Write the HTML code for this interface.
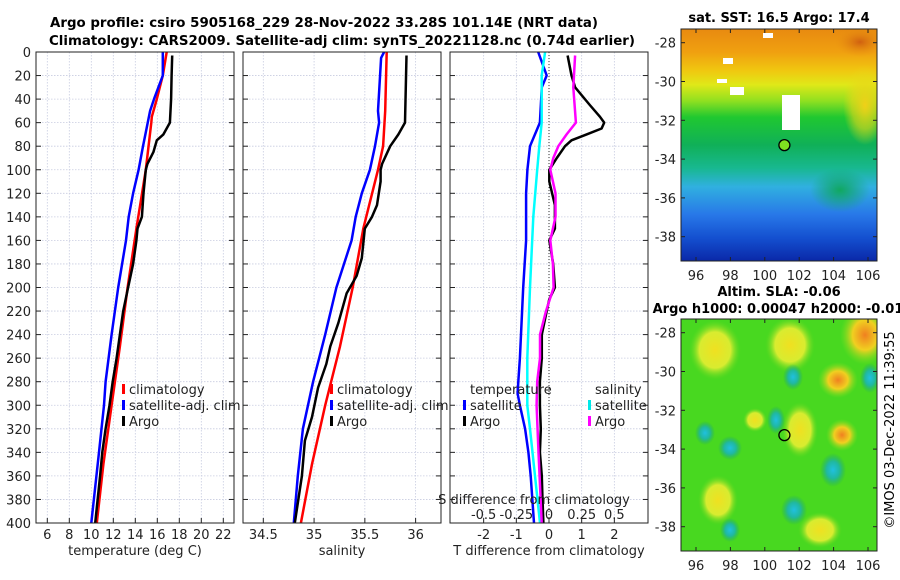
<!DOCTYPE html>
<html><head><meta charset="utf-8"><style>
body{margin:0;background:#fff;}
svg{display:block;font-family:"DejaVu Sans","Liberation Sans",sans-serif;}
</style></head><body>
<svg id="fig" width="900" height="580" viewBox="0 0 900 580" xmlns="http://www.w3.org/2000/svg">
<defs>
<clipPath id="clipSst"><rect x="681" y="29" width="196" height="232"/></clipPath>
<clipPath id="clipSla"><rect x="681" y="319" width="196" height="232"/></clipPath>
<linearGradient id="sstg" x1="0" y1="0" x2="0" y2="1">
<stop offset="0" stop-color="#e88a10"/><stop offset="0.1" stop-color="#f0a010"/>
<stop offset="0.18" stop-color="#f0c810"/><stop offset="0.24" stop-color="#e0e818"/>
<stop offset="0.31" stop-color="#90e020"/><stop offset="0.38" stop-color="#20c830"/>
<stop offset="0.5" stop-color="#10b058"/><stop offset="0.6" stop-color="#18b890"/>
<stop offset="0.68" stop-color="#30b0e0"/><stop offset="0.8" stop-color="#2878e8"/>
<stop offset="0.9" stop-color="#1450d0"/><stop offset="1" stop-color="#0a28a8"/>
</linearGradient>
<radialGradient id="yb"><stop offset="0" stop-color="#f0e020"/><stop offset="0.6" stop-color="#d8ec30"/><stop offset="1" stop-color="#60d820" stop-opacity="0"/></radialGradient>
<radialGradient id="ob"><stop offset="0" stop-color="#f08020"/><stop offset="0.5" stop-color="#f0d020"/><stop offset="1" stop-color="#80e020" stop-opacity="0"/></radialGradient>
<radialGradient id="ob2"><stop offset="0" stop-color="#d06010"/><stop offset="1" stop-color="#e89010" stop-opacity="0"/></radialGradient>
<radialGradient id="cb"><stop offset="0" stop-color="#20c0e0"/><stop offset="0.5" stop-color="#20b8a0"/><stop offset="1" stop-color="#20a860" stop-opacity="0"/></radialGradient>
<radialGradient id="db"><stop offset="0" stop-color="#10a860"/><stop offset="1" stop-color="#10a860" stop-opacity="0"/></radialGradient>
<radialGradient id="sy"><stop offset="0" stop-color="#f0d018"/><stop offset="0.6" stop-color="#e8d818" stop-opacity="0.6"/><stop offset="1" stop-color="#e8d818" stop-opacity="0"/></radialGradient>
</defs>
<text x="324" y="27" font-size="13.5" font-weight="bold" text-anchor="middle" textLength="548" lengthAdjust="spacingAndGlyphs">Argo profile: csiro 5905168_229 28-Nov-2022 33.28S 101.14E (NRT data)</text>
<text x="342" y="45" font-size="13.5" font-weight="bold" text-anchor="middle" textLength="586" lengthAdjust="spacingAndGlyphs">Climatology: CARS2009. Satellite-adj clim: synTS_20221128.nc (0.74d earlier)</text>
<g id="panels"></g>
<text x="779" y="22" font-size="13" font-weight="bold" text-anchor="middle">sat. SST: 16.5 Argo: 17.4</text>
<g clip-path="url(#clipSst)">
<rect x="681" y="29" width="196" height="232" fill="url(#sstg)"/>
<ellipse cx="860" cy="42" rx="25" ry="15" fill="url(#ob2)"/>
<ellipse cx="865" cy="105" rx="22" ry="40" fill="url(#sy)"/>
<ellipse cx="840" cy="190" rx="30" ry="22" fill="url(#db)"/>
<rect x="782" y="95" width="18" height="35" fill="#fff"/>
<rect x="730" y="87" width="14" height="8" fill="#fff"/>
<rect x="723" y="58" width="10" height="6" fill="#fff"/>
<rect x="717" y="79" width="10" height="4" fill="#fff"/>
<rect x="763" y="33" width="10" height="5" fill="#fff"/>
</g>
<text x="779" y="296" font-size="13" font-weight="bold" text-anchor="middle">Altim. SLA: -0.06</text>
<text x="778" y="313" font-size="13" font-weight="bold" text-anchor="middle">Argo h1000: 0.00047 h2000: -0.01</text>
<g clip-path="url(#clipSla)">
<rect x="681" y="319" width="196" height="232" fill="#48d820"/>
<ellipse cx="715" cy="350" rx="26" ry="30" fill="url(#yb)"/>
<ellipse cx="790" cy="345" rx="25" ry="28" fill="url(#yb)"/>
<ellipse cx="865" cy="335" rx="25" ry="30" fill="url(#ob)"/>
<ellipse cx="838" cy="380" rx="20" ry="18" fill="url(#ob)"/>
<ellipse cx="800" cy="430" rx="18" ry="28" fill="url(#yb)"/>
<ellipse cx="842" cy="435" rx="16" ry="16" fill="url(#ob)"/>
<ellipse cx="718" cy="500" rx="20" ry="25" fill="url(#yb)"/>
<ellipse cx="755" cy="420" rx="12" ry="12" fill="url(#yb)"/>
<ellipse cx="820" cy="530" rx="22" ry="18" fill="url(#yb)"/>
<ellipse cx="793" cy="377" rx="10" ry="13" fill="url(#cb)"/>
<ellipse cx="870" cy="378" rx="10" ry="15" fill="url(#cb)"/>
<ellipse cx="776" cy="420" rx="9" ry="14" fill="url(#cb)"/>
<ellipse cx="833" cy="470" rx="13" ry="17" fill="url(#cb)"/>
<ellipse cx="794" cy="510" rx="13" ry="15" fill="url(#cb)"/>
<ellipse cx="730" cy="448" rx="12" ry="12" fill="url(#cb)"/>
<ellipse cx="730" cy="530" rx="10" ry="12" fill="url(#cb)"/>
<ellipse cx="705" cy="433" rx="10" ry="12" fill="url(#cb)"/>
</g>
<g id="maps"></g>
<text transform="translate(894,430) rotate(-90)" font-size="13" text-anchor="middle">©IMOS 03-Dec-2022 11:39:55</text>
</svg>
<script>
const depthTicks=[0,20,40,60,80,100,120,140,160,180,200,220,240,260,280,300,320,340,360,380,400];
const tempTicks=[6,8,10,12,14,16,18,20,22];
const salTicks=[34.5,35,35.5,36];
const tdiffTicks=[-2,-1,0,1,2];
const sdiffTicks=[-0.5,-0.25,0,0.25,0.5];
const sdiffLabels=["-0.5","-0.25","0","0.25","0.5"];
const climTD=[0,20,40,55,60,100,150,200,250,300,350,400];
const climT=[16.85,16.5,15.95,15.5,15.45,14.95,14.1,13.3,12.6,11.85,11.1,10.5];
const satTD=[0,20,40,50,80,100,120,140,160,200,240,280,300,340,400];
const satT=[16.5,16.5,15.7,15.35,14.7,14.3,13.8,13.4,13.15,12.45,11.85,11.3,11.15,10.7,10.0];
const argoD=[3,20,40,60,70,75,85,95,100,120,140,150,160,180,200,220,240,260,280,300,320,340,360,400];
const argoT=[17.35,17.3,17.25,17.15,16.55,15.95,15.65,15.1,14.95,14.75,14.6,14.2,14.1,13.8,13.35,12.9,12.6,12.3,11.95,11.65,11.3,11.0,10.8,10.35];
const climSD=[0,50,80,100,150,200,250,300,350,400];
const climS=[35.715,35.70,35.68,35.63,35.485,35.38,35.255,35.11,34.98,34.87];
const satSD=[0,5,50,60,80,100,120,140,160,200,240,280,320,360,400];
const satS=[35.69,35.66,35.63,35.64,35.6,35.55,35.47,35.41,35.37,35.22,35.11,34.99,34.89,34.84,34.80];
const argoSD=[3,60,70,80,95,100,110,130,140,150,175,190,205,230,250,265,285,310,330,360,400];
const argoS=[35.91,35.895,35.83,35.75,35.67,35.655,35.655,35.62,35.57,35.50,35.47,35.42,35.32,35.24,35.16,35.12,35.04,34.98,34.91,34.88,34.81];
const satTdD=[0,20,30,60,80,100,120,160,200,260,280,290,300,320,340,360,400];
const satTd=[-0.33,-0.07,-0.22,-0.28,-0.58,-0.66,-0.7,-0.7,-0.79,-0.89,-0.94,-0.96,-0.89,-0.73,-0.63,-0.56,-0.46];
const satSdD=[0,20,60,80,100,140,200,260,300,320,360,400];
const satSd=[-0.03,-0.056,-0.056,-0.074,-0.09,-0.12,-0.145,-0.166,-0.166,-0.145,-0.107,-0.069];
const argoTdD=[3,20,30,45,55,60,65,70,75,80,90,100,110,130,150,160,180,200,210,220,240,260,280,300,320,340,360,380,400];
const argoTd=[0.57,0.69,0.80,1.25,1.56,1.69,1.61,1.15,0.69,0.49,0.24,0.01,0.01,0.18,0.18,0.01,0.13,0.18,0.01,-0.07,-0.22,-0.22,-0.28,-0.28,-0.25,-0.28,-0.22,-0.2,-0.17];
const argoSdD=[3,30,60,70,80,90,100,120,140,160,180,200,220,240,260,280,300,340,400];
const argoSd=[0.2,0.186,0.206,0.135,0.071,0.033,0.01,0.05,0.05,0.01,0.03,0.035,-0.023,-0.069,-0.069,-0.09,-0.095,-0.08,-0.056];
const latTicks=[-28,-30,-32,-34,-36,-38];
const lonTicks=[96,98,100,102,104,106];
const argoLon=[101.14], argoLat=[-33.28];

const NS="http://www.w3.org/2000/svg";
const panels=document.getElementById('panels');
function mk(tag,attrs,parent,text){const e=document.createElementNS(NS,tag);for(const k in attrs)e.setAttribute(k,attrs[k]);if(text!==undefined)e.textContent=text;(parent||panels).appendChild(e);return e;}
const Y0=52,Y1=523;
const yD=d=>Y0+d/400*(Y1-Y0);
function lin(d0,d1,p0,p1){return v=>p0+(v-d0)/(d1-d0)*(p1-p0);}

function panel(name,x0,x1,xs,xticks,xlabels,xtitle,showY){
  const g=mk('g',{});
  
  
  const grid=mk('g',{},g);
  
  
  depthTicks.forEach(d=>{mk('line',{x1:x0,x2:x1,y1:yD(d),y2:yD(d),stroke:'#c8cce0','stroke-width':0.8,'stroke-dasharray':'1.5,1.5'},grid);
    mk('line',{x1:x0,x2:x0+5,y1:yD(d),y2:yD(d),stroke:'#222'},grid);mk('line',{x1:x1-5,x2:x1,y1:yD(d),y2:yD(d),stroke:'#222'},grid);});
  xticks.forEach((t,i)=>{const x=xs(t);mk('line',{x1:x,x2:x,y1:Y0,y2:Y1,stroke:'#c8cce0','stroke-width':0.8,'stroke-dasharray':'1.5,1.5'},grid);
    mk('line',{x1:x,x2:x,y1:Y1-5,y2:Y1,stroke:'#222'},grid);
    const tl=mk('text',{x:x,y:539,'font-size':13,'text-anchor':'middle',fill:'#222'},g,xlabels[i]);
    
    });
  if(showY){depthTicks.forEach(d=>{const t=mk('text',{x:31,y:yD(d)+5,'font-size':13,'text-anchor':'end',fill:'#222'},g,String(d));
    
    });}
  const at=mk('text',{x:(x0+x1)/2,y:555,'font-size':13,'text-anchor':'middle',fill:'#222'},g,xtitle);
  
  
  return g;
}
function line(g,name,vals,depths,xs,color,w){
  const pts=vals.map((v,i)=>xs(v).toFixed(1)+','+yD(depths[i]).toFixed(1)).join(' ');
  const p=mk('polyline',{points:pts,fill:'none',stroke:color,'stroke-width':w||2.5,'stroke-linejoin':'round'},g);
  
  
}
function frame(g,x0,x1){mk('rect',{x:x0,y:Y0,width:x1-x0,height:Y1-Y0,fill:'none',stroke:'#222','stroke-width':1},g);}
function legend(g,name,x,y,items){
  items.forEach((it,i)=>{const yy=y+i*16;
    const b=mk('rect',{x:x,y:yy-5,width:3,height:10,fill:it[1]},g);
    
    
    const t=mk('text',{x:x+7,y:yy+5,'font-size':13,fill:'#222'},g,it[0]);
    
    });
}
// Temperature
const xT=lin(5,23,36.3,234.3);
let g=panel('temperature-panel',36,234,xT,tempTicks,tempTicks.map(String),'temperature (deg C)',true);
line(g,'temp-climatology-line',climT,climTD,xT,'#ff0000');
line(g,'temp-satellite-line',satT,satTD,xT,'#0000ff');
line(g,'temp-argo-line',argoT,argoD,xT,'#000000');
frame(g,36,234);
legend(g,'temp-legend',122,389,[['climatology','#ff0000'],['satellite-adj. clim','#0000ff'],['Argo','#000']]);
// Salinity
const xS=lin(34.3,36.25,243,441);
g=panel('salinity-panel',243,441,xS,salTicks,salTicks.map(String),'salinity',false);
line(g,'sal-climatology-line',climS,climSD,xS,'#ff0000');
line(g,'sal-satellite-line',satS,satSD,xS,'#0000ff');
line(g,'sal-argo-line',argoS,argoSD,xS,'#000000');
frame(g,243,441);
legend(g,'sal-legend',330,389,[['climatology','#ff0000'],['satellite-adj. clim','#0000ff'],['Argo','#000']]);
// Difference
const xTd=lin(-3.03,3.03,450,648);
const xSd=lin(-0.7575,0.7575,450,648);
g=panel('difference-panel',450,648,xTd,tdiffTicks,tdiffTicks.map(String),'T difference from climatology',false);
mk('line',{x1:xTd(0),x2:xTd(0),y1:Y0,y2:Y1,stroke:'#333','stroke-width':1,'stroke-dasharray':'1,2'},g);
line(g,'tdiff-satellite-line',satTd,satTdD,xTd,'#0000ff');
line(g,'sdiff-satellite-line',satSd,satSdD,xSd,'#00ffff');
line(g,'tdiff-argo-line',argoTd,argoTdD,xTd,'#000000');
line(g,'sdiff-argo-line',argoSd,argoSdD,xSd,'#ff00ff');
frame(g,450,648);
let t=mk('text',{x:470,y:394,'font-size':13,fill:'#222'},g,'temperature');


t=mk('text',{x:595,y:394,'font-size':13,fill:'#222'},g,'salinity');


legend(g,'diff-temp-legend',463,405,[['satellite','#0000ff'],['Argo','#000']]);
legend(g,'diff-sal-legend',588,405,[['satellite','#00e8e8'],['Argo','#ff00ff']]);
t=mk('text',{x:534,y:504,'font-size':13,'text-anchor':'middle',fill:'#222'},g,'S difference from climatology');


sdiffTicks.forEach((v,i)=>{const tt=mk('text',{x:xSd(v),y:519,'font-size':13,'text-anchor':'middle',fill:'#222'},g,sdiffLabels[i]);
  
  });
// Maps
const maps=document.getElementById('maps');
function mapAxes(name,top,bottom,lat28,lat38,lonLabY){
  const mg=mk('g',{},maps);
  
  
  const xl=lin(96,106,696,868), yl=lin(-28,-38,lat28,lat38);
  mk('rect',{x:681,y:top,width:196,height:bottom-top,fill:'none',stroke:'#222'},mg);
  latTicks.forEach(v=>{const y=yl(v);mk('line',{x1:681,x2:685,y1:y,y2:y,stroke:'#222'},mg);mk('line',{x1:873,x2:877,y1:y,y2:y,stroke:'#222'},mg);
    const tt=mk('text',{x:676,y:y+5,'font-size':13,'text-anchor':'end',fill:'#222'},mg,String(v));
    
    });
  lonTicks.forEach(v=>{const x=xl(v);mk('line',{x1:x,x2:x,y1:bottom-4,y2:bottom,stroke:'#222'},mg);mk('line',{x1:x,x2:x,y1:top,y2:top+4,stroke:'#222'},mg);
    const tt=mk('text',{x:x,y:lonLabY,'font-size':13,'text-anchor':'middle',fill:'#222'},mg,String(v));
    
    });
  return {xl,yl,mg};
}
let m=mapAxes('sst-map',29,261,42.7,236.7,280);
let c=mk('circle',{cx:m.xl(argoLon[0]),cy:m.yl(argoLat[0]),r:5.5,fill:'#80e020',stroke:'#000','stroke-width':1.3},m.mg);


m=mapAxes('sla-map',319,551,332.7,526.7,570);
c=mk('circle',{cx:m.xl(argoLon[0]),cy:m.yl(argoLat[0]),r:5.5,fill:'none',stroke:'#000','stroke-width':1.3},m.mg);


</script>
</body></html>
